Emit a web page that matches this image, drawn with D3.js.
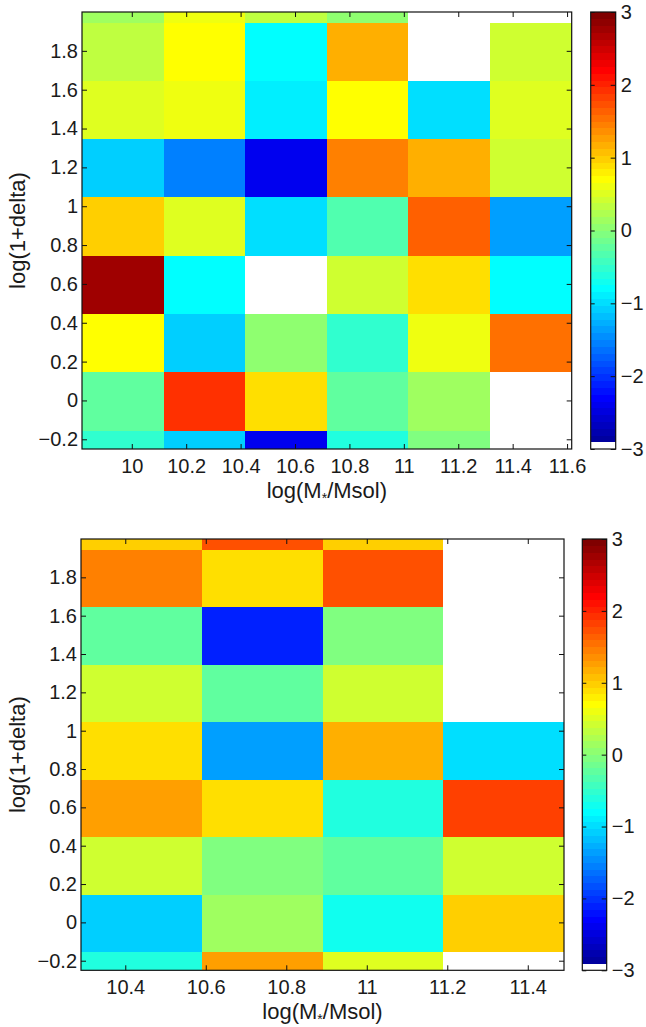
<!DOCTYPE html>
<html>
<head>
<meta charset="utf-8">
<script src="https://cdn.jsdelivr.net/npm/d3@7"></script>
<style>
  body { margin: 0; background: #fff; }
  svg text { font-family: "Liberation Sans", Arial, Helvetica, sans-serif; fill: #1a1a1a; }
</style>
</head>
<body>
<div id="chart"></div>
<script>
// bin centres (bins are 0.3 wide in both directions)
const yCenters = [-0.305, -0.005, 0.295, 0.595, 0.895, 1.195, 1.495, 1.795, 2.095];
const xCentersTop = [9.967, 10.267, 10.567, 10.867, 11.167, 11.467];
const xCentersBottom = [10.44, 10.74, 11.04, 11.34];

// rows listed bottom -> top, null = empty bin (drawn white)
const valuesTop = [
  [-0.52, -1.08, -2.39, -0.61, -0.05, null],
  [-0.19, 1.92, 0.89, -0.28, 0.14, null],
  [0.70, -1.08, 0.05, -0.52, 0.61, 1.55],
  [2.77, -0.80, null, 0.42, 0.89, -0.80],
  [0.98, 0.52, -0.98, -0.33, 1.64, -1.36],
  [-1.08, -1.55, -2.39, 1.45, 1.17, 0.42],
  [0.52, 0.61, -0.89, 0.70, -0.98, 0.52],
  [0.33, 0.70, -0.80, 1.17, null, 0.42],
  [0.14, 0.61, 0.33, 0.05, null, null]
];
const valuesBottom = [
  [-0.61, 1.27, 0.52, null],
  [-1.08, 0.14, -0.70, 0.98],
  [0.42, -0.05, -0.28, 0.42],
  [1.27, 0.89, -0.61, 1.83],
  [0.89, -1.36, 1.17, -0.98],
  [0.42, -0.28, 0.42, null],
  [-0.28, -2.11, -0.05, null],
  [1.45, 0.89, 1.73, null],
  [0.98, 1.73, 0.98, null]
];

const xTicksTop = [10, 10.2, 10.4, 10.6, 10.8, 11, 11.2, 11.4, 11.6];
const xTicksBottom = [10.4, 10.6, 10.8, 11, 11.2, 11.4];
const yTicks = [-0.2, 0, 0.2, 0.4, 0.6, 0.8, 1, 1.2, 1.4, 1.6, 1.8];
const cbarTicks = [-3, -2, -1, 0, 1, 2, 3];
const colorLimits = [-3, 3];
const xLabel = "log(M";
const xLabelSub = "*";
const xLabelEnd = "/Msol)";
const yLabel = "log(1+delta)";

const binSize = 0.3;
const nColors = 64;

// matlab style jet(64), first entry replaced by white
function jet(m) {
  const n = Math.ceil(m / 4);
  const u = [];
  for (let i = 1; i <= n; i++) u.push(i / n);
  for (let i = 1; i < n; i++) u.push(1);
  for (let i = n; i >= 1; i--) u.push(i / n);
  const g0 = Math.ceil(n / 2) - (m % 4 === 1 ? 1 : 0);
  const cols = d3.range(m).map(() => [0, 0, 0]);
  u.forEach((val, j) => {
    const g = g0 + j + 1, r = g + n, b = g - n;
    if (r >= 1 && r <= m) cols[r - 1][0] = val;
    if (g >= 1 && g <= m) cols[g - 1][1] = val;
    if (b >= 1 && b <= m) cols[b - 1][2] = val;
  });
  return cols.map(c => d3.rgb(c[0] * 255, c[1] * 255, c[2] * 255).formatHex());
}
const cmap = jet(nColors);
cmap[0] = "#ffffff";

const colorIndex = d3.scaleQuantize().domain(colorLimits).range(d3.range(nColors));
function colorOf(v) {
  if (v === null) return "#ffffff";
  return cmap[colorIndex(Math.max(colorLimits[0], Math.min(colorLimits[1], v)))];
}

const W = 646, H = 1027;
const tickFont = "20px";
const labelFont = "22px";
const svg = d3.select("#chart").append("svg")
  .attr("width", W).attr("height", H);

const fmt = d3.format("~g");

function drawPanel(cfg) {
  const x = d3.scaleLinear().domain(cfg.xDomain).range([cfg.left, cfg.right]);
  const y = d3.scaleLinear().domain([-0.25, 2.0]).range([cfg.bottom, cfg.top]);

  const clipId = "clip" + cfg.id;
  svg.append("clipPath").attr("id", clipId)
    .append("rect")
    .attr("x", cfg.left).attr("y", cfg.top)
    .attr("width", cfg.right - cfg.left).attr("height", cfg.bottom - cfg.top);

  const cells = [];
  cfg.values.forEach((row, ri) => {
    row.forEach((v, ci) => cells.push({ x: cfg.xCenters[ci], y: yCenters[ri], v: v }));
  });

  svg.append("g").attr("clip-path", `url(#${clipId})`)
    .selectAll("rect")
    .data(cells)
    .enter()
    .append("rect")
    .attr("x", d => x(d.x - binSize / 2))
    .attr("y", d => y(d.y + binSize / 2))
    .attr("width", d => x(d.x + binSize / 2) - x(d.x - binSize / 2))
    .attr("height", d => y(d.y - binSize / 2) - y(d.y + binSize / 2))
    .attr("fill", d => colorOf(d.v))
    .attr("shape-rendering", "crispEdges");

  // axes, ticks pointing inward like matlab
  const axB = svg.append("g").attr("transform", `translate(0,${cfg.bottom})`)
    .call(d3.axisBottom(x).tickValues(cfg.xTicks).tickFormat(fmt)
      .tickSizeInner(-5).tickSizeOuter(0).tickPadding(9.5));
  const axL = svg.append("g").attr("transform", `translate(${cfg.left},0)`)
    .call(d3.axisLeft(y).tickValues(yTicks).tickFormat(fmt)
      .tickSizeInner(-5).tickSizeOuter(0).tickPadding(4));
  const axT = svg.append("g").attr("transform", `translate(0,${cfg.top})`)
    .call(d3.axisTop(x).tickValues(cfg.xTicks).tickFormat("")
      .tickSizeInner(-5).tickSizeOuter(0));
  const axR = svg.append("g").attr("transform", `translate(${cfg.right},0)`)
    .call(d3.axisRight(y).tickValues(yTicks).tickFormat("")
      .tickSizeInner(-5).tickSizeOuter(0));
  [axB, axL, axT, axR].forEach(a => {
    a.select(".domain").remove();
    a.selectAll(".tick line").attr("stroke", "#111");
    a.selectAll("text").style("font-size", tickFont).attr("fill", "#1a1a1a");
  });

  svg.append("rect")
    .attr("x", cfg.left).attr("y", cfg.top)
    .attr("width", cfg.right - cfg.left).attr("height", cfg.bottom - cfg.top)
    .attr("fill", "none").attr("stroke", "#111").attr("stroke-width", 1.2);

  // axis titles
  const xt = svg.append("text")
    .attr("x", (cfg.left + cfg.right) / 2)
    .attr("y", cfg.bottom + 49)
    .attr("text-anchor", "middle")
    .style("font-size", labelFont);
  xt.append("tspan").text(xLabel);
  xt.append("tspan").attr("dy", 5).style("font-size", "14px").text(xLabelSub);
  xt.append("tspan").attr("dy", -5).text(xLabelEnd);

  svg.append("text")
    .attr("transform", `translate(${cfg.yLabelX},${(cfg.top + cfg.bottom) / 2}) rotate(-90)`)
    .attr("text-anchor", "middle")
    .attr("dy", "0.35em")
    .style("font-size", labelFont)
    .text(yLabel);

  // colorbar
  const cy = d3.scaleLinear().domain(colorLimits).range([cfg.bottom, cfg.top]);
  const step = (colorLimits[1] - colorLimits[0]) / nColors;
  svg.append("g")
    .selectAll("rect")
    .data(cmap)
    .enter()
    .append("rect")
    .attr("x", cfg.cbLeft)
    .attr("y", (d, i) => cy(colorLimits[0] + (i + 1) * step))
    .attr("width", cfg.cbWidth)
    .attr("height", (d, i) => cy(colorLimits[0] + i * step) - cy(colorLimits[0] + (i + 1) * step) + 0.3)
    .attr("fill", d => d)
    .attr("shape-rendering", "crispEdges");

  const cbR = svg.append("g").attr("transform", `translate(${cfg.cbLeft + cfg.cbWidth},0)`)
    .call(d3.axisRight(cy).tickValues(cbarTicks).tickFormat(fmt)
      .tickSizeInner(-5).tickSizeOuter(0).tickPadding(5));
  const cbL = svg.append("g").attr("transform", `translate(${cfg.cbLeft},0)`)
    .call(d3.axisLeft(cy).tickValues(cbarTicks).tickFormat("")
      .tickSizeInner(-4).tickSizeOuter(0));
  [cbR, cbL].forEach(a => {
    a.select(".domain").remove();
    a.selectAll(".tick line").attr("stroke", "#111");
    a.selectAll("text").style("font-size", tickFont).attr("fill", "#1a1a1a");
  });
  svg.append("rect")
    .attr("x", cfg.cbLeft).attr("y", cfg.top)
    .attr("width", cfg.cbWidth).attr("height", cfg.bottom - cfg.top)
    .attr("fill", "none").attr("stroke", "#111").attr("stroke-width", 1.2);
}

drawPanel({
  id: "top",
  left: 82, right: 571.7, top: 12, bottom: 449,
  xDomain: [9.817, 11.617],
  xCenters: xCentersTop, values: valuesTop, xTicks: xTicksTop,
  yLabelX: 17,
  cbLeft: 590.7, cbWidth: 25
});

drawPanel({
  id: "bottom",
  left: 81, right: 564, top: 539, bottom: 970.3,
  xDomain: [10.29, 11.49],
  xCenters: xCentersBottom, values: valuesBottom, xTicks: xTicksBottom,
  yLabelX: 17,
  cbLeft: 582.3, cbWidth: 24.4
});
</script>
</body>
</html>
